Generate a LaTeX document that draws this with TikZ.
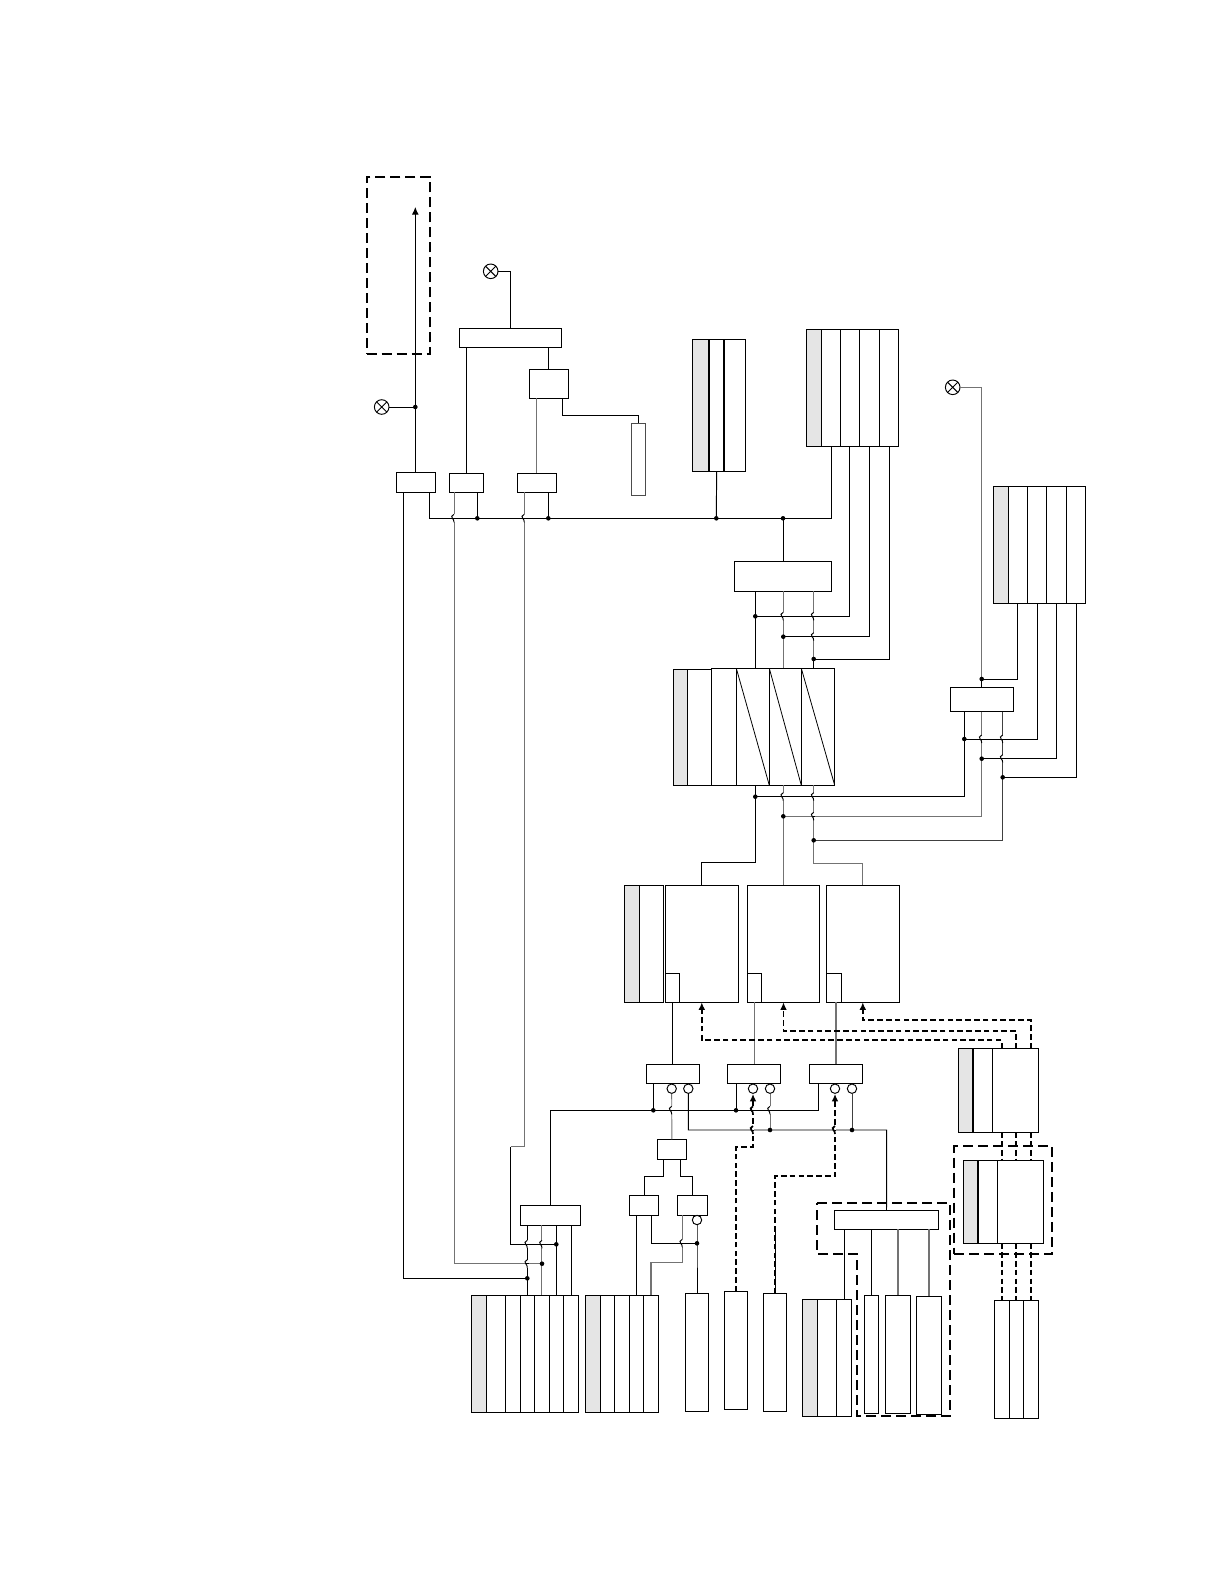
\documentclass[tikz,border=0pt]{standalone}
\usetikzlibrary{arrows.meta}
\definecolor{cellgray}{gray}{0.9}
\newcommand{\blk}[6][]{\node[blk,minimum width={(#5-#3)*0.5pt},minimum height={(#6-#4)*0.5pt},#1] (#2) at ({(#3+#5)/2},{(#4+#6)/2}) {};}
\newcommand{\hop}[3][]{\fill[white] ({#2-0.9},{#3-4}) rectangle ({#2+0.9},{#3+4});
	\draw ({#2-1.2},#3) -- ({#2+1.2},#3);
	\draw[#1] (#2,{#3-4}) .. controls ({#2-2.8},{#3-3}) and ({#2-2.8},{#3-1}) .. ({#2-1.6},#3) .. controls ({#2-0.6},{#3+1}) and (#2,{#3+2}) .. (#2,{#3+4});}
\begin{document}
\begin{tikzpicture}[x=0.5pt, y=-0.5pt, line width=0.48pt, >={Latex[length=3.8pt,width=3.4pt]},
	blk/.style={draw, rectangle, inner sep=0pt, outer sep=0pt},
	wgray/.style={black!55},
	dwire/.style={line width=0.85pt, dash pattern=on 2.8pt off 1.6pt},
	dzone/.style={line width=0.85pt, dash pattern=on 5pt off 2.5pt},
	inv/.style={draw, circle, fill=white, inner sep=0pt, minimum size=4.7pt},
	xlamp/.style={draw, circle, inner sep=0pt, minimum size=7.3pt, path picture={\draw (path picture bounding box.north west) -- (path picture bounding box.south east) (path picture bounding box.north east) -- (path picture bounding box.south west);}}]
	\useasboundingbox (0,0) rectangle (1224,1584);
	\foreach \a/\b/\c/\d in {692.3/339.3/709/471.3,806.3/329.3/821.7/446.7,993.3/486.3/1008.3/603.3,673.3/669.3/687.3/785.3,624.3/885.3/639.3/1002.3,958.3/1048.3/972.7/1132.3,963.3/1160.3/977.7/1243.3,471.3/1295.3/486.3/1412.3,585.3/1295.3/600.3/1412.3,802.3/1299.3/817.3/1416.3} {\fill[cellgray] (\a,\b) rectangle (\c,\d);}
	\blk[dzone]{hdr}{366.7}{177}{430}{354}
	\blk{busA}{396.3}{472.3}{435.3}{492.3}
	\blk{busB}{449.3}{473.3}{483.3}{492.3}
	\blk{busC}{517.3}{473.3}{556.3}{492.3}
	\blk{dec}{459.3}{328.3}{561.3}{347.3}
	\blk{reg}{529.3}{369.3}{568.3}{398.3}
	\blk[draw=black!70]{pin}{631.3}{423.3}{645.7}{495.3}
	\blk{ctlI}{734.3}{561.3}{831.7}{591.3}
	\blk{ctlL}{950.3}{687.3}{1013.7}{711.7}
	\blk{ctlR}{520.3}{1205.3}{580.3}{1225.3}
	\blk{muxA}{646.3}{1064.3}{699.7}{1083.3}
	\blk{muxB}{727.3}{1064.3}{780.7}{1083.3}
	\blk{muxC}{809.3}{1064.3}{862.7}{1083.3}
	\blk{gate}{657.3}{1139.3}{686.3}{1159.3}
	\blk{gateL}{629.3}{1195.3}{658.7}{1215.3}
	\blk{gateR}{677.3}{1195.3}{707.7}{1215.3}
	\blk{sel}{834.3}{1210.3}{938.7}{1229.3}
	\blk{memA}{665.3}{885.3}{738.3}{1002.3}
	\blk{memB}{747.3}{885.3}{819.7}{1002.3}
	\blk{memC}{826.3}{885.3}{899.3}{1002.3}
	\blk{tagA}{665.3}{973.3}{679.3}{1002.3}
	\blk{tagB}{747.3}{973.3}{761.3}{1002.3}
	\blk{tagC}{826.3}{973.3}{841.3}{1002.3}
	\blk{inW}{685.3}{1293.3}{708.7}{1411.3}
	\blk{inX}{724.3}{1291.3}{747.7}{1409.3}
	\blk{inY}{763.3}{1293.3}{786.7}{1411.3}
	\blk{inAB}{864.3}{1295.3}{878.7}{1413.3}
	\blk{inAC}{885.3}{1295.3}{910.7}{1413.3}
	\blk{inAD}{916.3}{1296.3}{941.7}{1414.7}
	\blk[dzone]{zoneB}{954.3}{1146}{1052}{1254}
	\foreach \a/\b [count=\i] in {692.3/709,709/724.3,724.3/745.7} {\blk{G-\i}{\a}{339.3}{\b}{471.3}}
	\foreach \a/\b [count=\i] in {806.3/821.7,821.7/840.3,840.3/859.3,859.3/879.7,879.7/898.7} {\blk{H-\i}{\a}{329.3}{\b}{446.7}}
	\foreach \a/\b [count=\i] in {993.3/1008.3,1008.3/1027.3,1027.3/1046.7,1046.7/1066.7,1066.7/1085.7} {\blk{J-\i}{\a}{486.3}{\b}{603.3}}
	\foreach \a/\b [count=\i] in {673.3/687.3,687.3/711.3} {\blk{K-\i}{\a}{669.3}{\b}{785.3}}
	\foreach \a/\b [count=\i] in {711.3/736.3,736.3/769.3,769.3/801.3,801.3/834.7} {\blk{C-\i}{\a}{668.3}{\b}{785.3}}
	\foreach \a/\b [count=\i] in {624.3/639.3,639.3/663.3} {\blk{M-\i}{\a}{885.3}{\b}{1002.3}}
	\foreach \a/\b [count=\i] in {958.3/972.7,972.7/992.3,992.3/1038.7} {\blk{P-\i}{\a}{1048.3}{\b}{1132.3}}
	\foreach \a/\b [count=\i] in {963.3/977.7,977.7/997.3,997.3/1043.7} {\blk{E-\i}{\a}{1160.3}{\b}{1243.3}}
	\foreach \a/\b [count=\i] in {471.3/486.3,486.3/505.3,505.3/520.3,520.3/534.3,534.3/549.3,549.3/563.3,563.3/578.7} {\blk{S-\i}{\a}{1295.3}{\b}{1412.3}}
	\foreach \a/\b [count=\i] in {585.3/600.3,600.3/614.3,614.3/629.3,629.3/643.3,643.3/658.7} {\blk{T-\i}{\a}{1295.3}{\b}{1412.3}}
	\foreach \a/\b [count=\i] in {802.3/817.3,817.3/836.7,836.7/851.7} {\blk{A-\i}{\a}{1299.3}{\b}{1416.3}}
	\foreach \a/\b [count=\i] in {994.3/1009.3,1009.3/1023.3,1023.3/1038.7} {\blk{F-\i}{\a}{1300.3}{\b}{1418.3}}
	\foreach \n in {G-1,G-2,P-1,E-1} {\draw[line width=1.1pt] (\n.north east) -- (\n.south east);}
	\foreach \n in {C-2,C-3,C-4} {\draw[line width=0.4pt] (\n.north west) -- (\n.south east);}
	\node[xlamp] (lampA) at (381.7,407) {};
	\node[xlamp] (lampB) at (490.7,271.3) {};
	\node[xlamp] (lampC) at (952.7,387.3) {};
	\coordinate (dA) at (415.3,407);
	\coordinate (tipA) at (415.3,207);
	\coordinate (tapF) at (562.3,415.3);
	\coordinate (busS) at (429.3,518.3);
	\coordinate (busE) at (831.7,518.3);
	\foreach \n/\x in {dB/477.3,dC/548.3,dG/716.3,dI/783} {\coordinate (\n) at (\x,518.3);}
	\foreach \n/\x/\y in {dI1/755.3/616.3,dI2/783.3/636.7,dI3/813.7/659,dK1/755.3/796.7,dK2/783.3/816.3,dK3/813.7/840.3,dL0/981.7/679,dL1/964.3/739,dL2/981.7/758.7,dL3/1002.7/777.3,dO1/653.3/1110.3,dO2/736/1110.3,d2/770/1130,d3/852/1130,dV/697/1243.3,dR1/527.3/1278.3,dR2/542/1263.7,dR3/556.3/1244.3} {\coordinate (\n) at (\x,\y);}
	\node[inv] (cA1) at (671.7,1088.7) {};
	\node[inv] (cA2) at (688.3,1088.7) {};
	\node[inv] (cB1) at (753,1088.7) {};
	\node[inv] (cB2) at (770,1088.7) {};
	\node[inv] (cC1) at (835,1088.7) {};
	\node[inv] (cC2) at (852,1088.7) {};
	\node[inv] (cV) at (697,1220) {};
	\draw[->] (busA.north -| dA) -- (tipA);
	\draw (lampA) -- (dA);
	\draw (lampB) -| (dec.north);
	\draw (dec.south -| busB.north) -- (busB.north);
	\draw (dec.south -| reg.north) -- (reg.north);
	\draw[wgray, line width=0.65pt] (reg.south -| busC.north) -- (busC.north);
	\draw (reg.south -| tapF) -- (tapF) -| (pin.north);
	\draw (busA.south -| busS) -- (busS) -- (busE) -- (H-2.south -| busE);
	\draw (busB.south -| dB) -- (dB);
	\draw (busC.south -| dC) -- (dC);
	\draw (G-2.south) -- (dG);
	\draw (dI) -- (ctlI.north -| dI);
	\coordinate (wB) at (454,1263.7);
	\coordinate (wC1) at (524.3,1146.7);
	\coordinate (wC2) at (510.7,1146.7);
	\coordinate (wC3) at (510.7,1244.3);
	\coordinate (wA) at (403.3,1278.3);
	\draw[wgray] (busB.south -| wB) -- (wB) -- (dR2);
	\draw[wgray] (busC.south -| wC1) -- (wC1) -- (wC2);
	\draw (wC2) -- (wC3) -- (dR3);
	\draw (busA.south -| wA) -- (wA) -- (dR1);
	\draw (ctlR.south -| S-4.north) -- (S-4.north);
	\draw[wgray, line width=0.65pt] (ctlR.south -| S-5.north) -- (S-5.north);
	\draw (ctlR.south -| S-6.north) -- (S-6.north);
	\draw (ctlR.south -| S-7.north) -- (S-7.north);
	\draw (H-3.south) |- (dI1);
	\draw (H-4.south) |- (dI2);
	\draw (H-5.south) |- (dI3);
	\draw (ctlI.south -| dI1) -- (C-1.north -| dI1);
	\draw[wgray] (ctlI.south -| dI2) -- (C-1.north -| dI2);
	\draw[wgray] (ctlI.south -| dI3) -- (dI3);
	\draw (dI3) -- (C-1.north -| dI3);
	\coordinate (kA) at (755.3,862.3);
	\coordinate (kC) at (813.7,863.3);
	\draw (C-1.south -| dK1) -- (kA) -| (memA.north);
	\draw[wgray] (C-1.south -| dK2) -- (memB.north -| dK2);
	\draw[wgray] (C-1.south -| dK3) -- (kC) -| (memC.north);
	\draw[wgray] (lampC) -| (dL0);
	\draw (dL0) -- (ctlL.north -| dL0);
	\draw (J-2.south) |- (dL0);
	\draw (J-3.south) |- (dL1);
	\draw (J-4.south) |- (dL2);
	\draw (J-5.south) |- (dL3);
	\draw (ctlL.south -| dL1) |- (dK1);
	\draw[wgray] (ctlL.south -| dL2) |- (dK2);
	\draw[black!75] (ctlL.south -| dL3) |- (dK3);
	\draw (tagA.south) -- (muxA.north -| tagA.south);
	\draw[wgray, line width=0.65pt] (tagB.south) -- (muxB.north -| tagB.south);
	\draw[wgray, line width=0.65pt] (memC.south -| muxC.north) -- (muxC.north);
	\coordinate (pA) at (1001.7,1040);
	\coordinate (pB) at (1016,1031);
	\coordinate (pC) at (1030.7,1020.3);
	\draw[dwire,->] (P-3.north -| pA) -- (pA) -| (memA.south);
	\draw[dwire,->] (P-3.north -| pB) -- (pB) -| (memB.south);
	\draw[dwire,->] (P-3.north -| pC) -- (pC) -| (memC.south);
	\foreach \n in {pA,pB,pC} {\draw[dwire] (P-3.south -| \n) -- (E-3.north -| \n);
		\draw[dwire] (E-3.south -| \n) -- (F-1.north -| \n);}
	\coordinate (sL) at (550.3,1110.3);
	\coordinate (sR) at (818.7,1110.3);
	\draw (ctlR.north) -- (sL) -- (sR) -- (muxC.south -| sR);
	\draw (muxA.south -| dO1) -- (dO1);
	\draw (muxB.south -| dO2) -- (dO2);
	\coordinate (tL) at (688.3,1130);
	\coordinate (tR) at (886.7,1130);
	\draw (cA2) -- (tL) -- (tR) -- (sel.north);
	\draw[wgray] (cA1) -- (gate.north);
	\draw[wgray] (cB2) -- (d2);
	\draw[black!75] (cC2) -- (d3);
	\coordinate (kB1) at (736,1146.7);
	\coordinate (kB2) at (753,1146.7);
	\coordinate (kY1) at (775,1176);
	\coordinate (kY2) at (835,1176);
	\coordinate (kY3) at (775,1231.7);
	\draw[dwire,->] (inX.north) -- (kB1) -- (kB2) -- (cB1.south);
	\draw[dwire,->] (inY.north) -- (kY1) -- (kY2) -- (cC1.south);
	\draw[line width=0.4pt] (kY3) -- (inY.north);
	\coordinate (qL) at (663.7,1176.3);
	\coordinate (qR) at (680.3,1176.3);
	\draw (gate.south -| qL) -- (qL) -| (gateL.north);
	\draw (gate.south -| qR) -- (qR) -| (gateR.north);
	\draw (cV) -- (dV) -- (inW.north);
	\draw (gateL.south -| T-4.north) -- (T-4.north);
	\draw (gateL.south -| T-5.north) |- (dV);
	\coordinate (vA) at (682.3,1262.7);
	\draw[wgray, line width=0.65pt] (gateR.south -| vA) -- (vA) -| (T-5.north);
	\draw (sel.south -| A-3.north) -- (A-3.north);
	\draw (sel.south -| inAB.north) -- (inAB.north);
	\draw[wgray, line width=0.65pt] (sel.south -| inAC.north) -- (inAC.north);
	\draw[wgray, line width=0.65pt] (sel.south -| inAD.north) -- (inAD.north);
	\draw[dzone] (817.3,1202.7) -- (950,1202.7) -- (950,1416) -- (857.3,1416) -- (857.3,1254) -- (817.3,1254) -- cycle;
	\foreach \x/\y in {454/518.3,524.3/518.3,783.3/616.3,813.7/616.3,813.7/636.7,783.3/796.7,813.7/796.7,813.7/816.3,981.7/739,1002.7/739,1002.7/758.7,527.3/1244.3,542/1244.3,527.3/1263.7,671.7/1110.3,770/1110.3,682.3/1243.3} {\hop{\x}{\y}}
	\foreach \x/\y in {753/1110.3,753/1130,835/1130} {\hop[line width=0.85pt]{\x}{\y}}
	\foreach \n in {dA,dB,dC,dG,dI,dI1,dI2,dI3,dK1,dK2,dK3,dL0,dL1,dL2,dL3,dO1,dO2,d2,d3,dV,dR1,dR2,dR3} {\fill (\n) circle (2.3);}
\end{tikzpicture}
\end{document}
